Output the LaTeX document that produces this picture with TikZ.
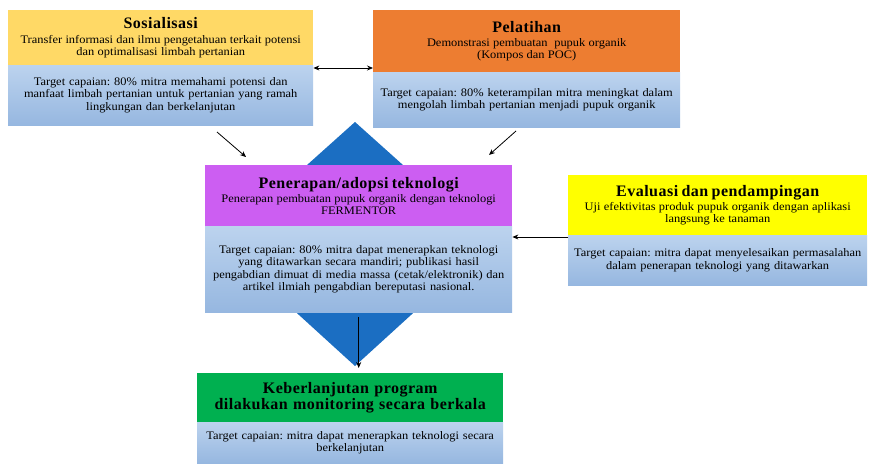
\documentclass[tikz,border=0pt]{standalone}
\usepackage{fontspec}
\setmainfont{Liberation Serif}
\newfontfamily\bodyff{Liberation Serif}[FakeStretch=1.08]
\newfontfamily\ttlff{Liberation Serif}[LetterSpace=3]
\usetikzlibrary{arrows.meta}
\definecolor{cgold}{HTML}{FFD966}
\definecolor{corange}{HTML}{ED7D31}
\definecolor{cpurple}{HTML}{CC5EF2}
\definecolor{cyellow}{HTML}{FFFF00}
\definecolor{cgreen}{HTML}{00B050}
\definecolor{cbluetop}{HTML}{BCD3EE}
\definecolor{cbluebot}{HTML}{96B7E0}
\definecolor{cdiam}{HTML}{1B6EC2}
\newcommand{\ttlfont}{\ttlff\fontsize{16}{16}\selectfont\bfseries}
\newcommand{\subfont}{\bodyff\fontsize{11.5}{12.6}\selectfont\frenchspacing}
\newcommand{\ttlgap}{\vspace{1.5pt}}
\begin{document}
\begin{tikzpicture}[x=1pt,y=-1pt,
  box/.style={inner sep=2pt, anchor=north west, align=center},
  hdr/.style={box},
  bodybox/.style={box, top color=cbluetop, bottom color=cbluebot, draw=none,
     font=\subfont},
  arr/.style={draw=black, line width=0.8pt, -{Stealth[length=6pt,width=5pt]}},
  arrb/.style={draw=black, line width=0.8pt, {Stealth[length=6pt,width=5pt]}-{Stealth[length=6pt,width=5pt]}}
]
\useasboundingbox (0,0) rectangle (869,463);
% diamond background
\fill[cdiam] (355,122) -- (490,243) -- (355,366) -- (220,243) -- cycle;

% Sosialisasi
\node[hdr, fill=cgold, text width=301pt, minimum height=55pt] (sosH) at (8,10)
  {{\ttlfont Sosialisasi\par}\ttlgap\subfont Transfer informasi dan ilmu pengetahuan terkait potensi\\ dan optimalisasi limbah pertanian};
\node[bodybox, text width=301pt, minimum height=60pt] (sosB) at (8,65)
  {Target capaian: 80\% mitra memahami potensi dan\\ manfaat limbah pertanian untuk pertanian yang ramah\\ lingkungan dan berkelanjutan};

% Pelatihan
\node[hdr, fill=corange, text width=303pt, minimum height=62pt] (pelH) at (373,10)
  {{\ttlfont Pelatihan\par}\ttlgap\subfont Demonstrasi pembuatan\ \ pupuk organik\\ (Kompos dan POC)};
\node[bodybox, text width=303pt, minimum height=55pt] (pelB) at (373,72)
  {Target capaian: 80\% keterampilan mitra meningkat dalam\\ mengolah limbah pertanian menjadi pupuk organik};

% Penerapan
\node[hdr, fill=cpurple, text width=303pt, minimum height=61pt] (penH) at (205,165)
  {{\ttlfont Penerapan/adopsi teknologi\par}\ttlgap\subfont Penerapan pembuatan pupuk organik dengan teknologi\\ FERMENTOR};
\node[bodybox, text width=303pt, minimum height=86pt] (penB) at (205,226)
  {Target capaian: 80\% mitra dapat menerapkan teknologi\\ yang ditawarkan secara mandiri; publikasi hasil\\ pengabdian dimuat di media massa (cetak/elektronik) dan\\ artikel ilmiah pengabdian bereputasi nasional.};

% Evaluasi
\node[hdr, fill=cyellow, text width=295pt, minimum height=60pt] (evH) at (568,175)
  {{\ttlfont Evaluasi dan pendampingan\par}\ttlgap\subfont Uji efektivitas produk pupuk organik dengan aplikasi\\ langsung ke tanaman};
\node[bodybox, text width=295pt, minimum height=50pt] (evB) at (568,235)
  {Target capaian: mitra dapat menyelesaikan permasalahan\\ dalam penerapan teknologi yang ditawarkan};

% Keberlanjutan
\node[hdr, fill=cgreen, text width=302pt, minimum height=49pt, font=\ttlfont] (kebH) at (197,373)
  {Keberlanjutan program\\ dilakukan monitoring secara berkala};
\node[bodybox, text width=302pt, minimum height=41pt] (kebB) at (197,422)
  {Target capaian: mitra dapat menerapkan teknologi secara\\ berkelanjutan};

% connectors
\draw[arrb] ([yshift=-3pt]sosB.north east) -- ([yshift=-3pt]sosB.north east -| pelB.west);
\coordinate (d1s) at (217,132);
\coordinate (d1e) at (246,157);
\coordinate (d2s) at (516,131);
\coordinate (d2e) at (489,155);
\draw[arr] (d1s) -- (d1e);
\draw[arr] (d2s) -- (d2e);
\draw[arr] ([yshift=-2pt]evB.north west) -- ([yshift=-2pt]evB.north west -| penB.east);
\draw[arr] ([yshift=-5pt]penB.south) -- ([yshift=5pt]penB.south |- kebH.north);
\end{tikzpicture}
\end{document}
